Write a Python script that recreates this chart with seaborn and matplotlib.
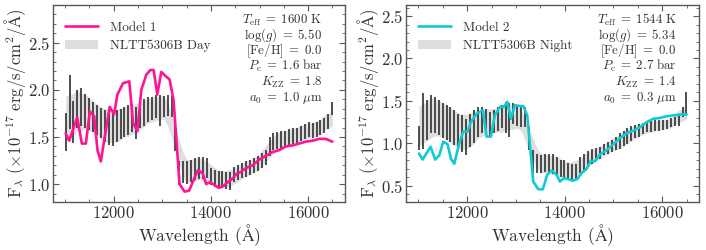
import numpy as np
import pandas as pd
import matplotlib
matplotlib.use("Agg")
import matplotlib.pyplot as plt
from matplotlib.patches import Patch
from matplotlib.lines import Line2D
from matplotlib.ticker import MultipleLocator
import seaborn as sns

# ---------------- data ----------------
wave = [11010, 11091, 11171, 11252, 11333, 11413, 11494, 11575, 11655, 11736,
        11817, 11898, 11978, 12059, 12140, 12220, 12301, 12382, 12462, 12543,
        12624, 12704, 12785, 12866, 12946, 13027, 13108, 13189, 13269, 13350,
        13431, 13511, 13592, 13673, 13753, 13834, 13915, 13995, 14076, 14157,
        14237, 14318, 14399, 14479, 14560, 14641, 14722, 14802, 14883, 14964,
        15044, 15125, 15206, 15286, 15367, 15448, 15528, 15609, 15690, 15770,
        15851, 15932, 16013, 16093, 16174, 16255, 16335, 16416, 16497]

day_flux = [1.55, 1.87, 1.66, 1.80, 1.82, 1.78, 1.74, 1.71, 1.68, 1.65,
            1.62, 1.60, 1.59, 1.62, 1.64, 1.66, 1.68, 1.70, 1.65, 1.73,
            1.76, 1.79, 1.80, 1.82, 1.78, 1.82, 1.83, 1.82, 1.50, 1.12,
            1.13, 1.12, 1.14, 1.16, 1.17, 1.17, 1.17, 1.08, 1.06, 1.05,
            1.05, 1.04, 1.035, 1.10, 1.12, 1.14, 1.16, 1.18, 1.20, 1.22,
            1.25, 1.28, 1.40, 1.45, 1.46, 1.47, 1.48, 1.50, 1.51, 1.52,
            1.54, 1.56, 1.58, 1.57, 1.58, 1.60, 1.62, 1.66, 1.80]
day_err = [0.20, 0.29, 0.22, 0.20, 0.20, 0.18, 0.17, 0.16, 0.16, 0.16,
           0.17, 0.18, 0.19, 0.17, 0.16, 0.16, 0.16, 0.15, 0.17, 0.14,
           0.14, 0.13, 0.12, 0.12, 0.16, 0.11, 0.11, 0.11, 0.15, 0.13,
           0.12, 0.12, 0.12, 0.12, 0.12, 0.12, 0.11, 0.09, 0.09, 0.09,
           0.09, 0.09, 0.095, 0.08, 0.08, 0.08, 0.08, 0.08, 0.08, 0.08,
           0.08, 0.08, 0.10, 0.09, 0.09, 0.09, 0.08, 0.08, 0.08, 0.08,
           0.08, 0.08, 0.08, 0.08, 0.08, 0.08, 0.08, 0.08, 0.07]

night_flux = [1.065, 1.265, 1.275, 1.345, 1.335, 1.305, 1.265, 1.245, 1.225, 1.185,
              1.145, 1.115, 1.075, 1.155, 1.195, 1.255, 1.275, 1.275, 1.225, 1.255,
              1.29, 1.315, 1.305, 1.275, 1.35, 1.33, 1.31, 1.31, 1.055, 0.785,
              0.765, 0.755, 0.77, 0.77, 0.755, 0.73, 0.71, 0.695, 0.67, 0.665,
              0.67, 0.745, 0.785, 0.82, 0.845, 0.875, 0.89, 0.925, 0.95, 0.97,
              1.00, 1.03, 1.06, 1.085, 1.115, 1.14, 1.155, 1.175, 1.195, 1.20,
              1.215, 1.21, 1.22, 1.225, 1.245, 1.255, 1.265, 1.37, 1.465]
night_err = [0.145, 0.325, 0.235, 0.225, 0.215, 0.205, 0.205, 0.205, 0.205, 0.205,
             0.205, 0.215, 0.215, 0.195, 0.195, 0.175, 0.155, 0.135, 0.145, 0.135,
             0.14, 0.135, 0.185, 0.195, 0.12, 0.12, 0.12, 0.12, 0.135, 0.135,
             0.115, 0.105, 0.11, 0.11, 0.115, 0.11, 0.10, 0.105, 0.10, 0.095,
             0.09, 0.095, 0.095, 0.09, 0.085, 0.075, 0.07, 0.065, 0.07, 0.07,
             0.08, 0.09, 0.09, 0.095, 0.085, 0.08, 0.075, 0.065, 0.065, 0.06,
             0.065, 0.06, 0.06, 0.055, 0.055, 0.055, 0.055, 0.06, 0.135]

model_wave = [11009, 11084, 11248, 11343, 11426, 11508, 11597, 11665, 11734, 11836,
              11918, 12007, 12075, 12191, 12320, 12397, 12485, 12567, 12670, 12752,
              12821, 12896, 12978, 13080, 13149, 13231, 13354, 13457, 13550, 13640,
              13735, 13833, 13901, 13983, 14072, 14161, 14257, 14346, 14448, 14530,
              14619, 14722, 14858, 14995, 15132, 15269, 15405, 15542, 15679, 15816,
              15952, 16089, 16226, 16362, 16499]
model1_flux = [1.54, 1.46, 1.71, 1.43, 1.43, 1.77, 1.72, 1.36, 1.24, 1.57,
               1.82, 1.74, 1.95, 2.07, 2.09, 1.65, 1.56, 2.00, 2.16, 2.21,
               2.21, 1.95, 2.19, 2.14, 2.11, 1.89, 1.00, 0.92, 0.93, 1.04,
               1.15, 1.11, 1.00, 1.02, 0.99, 0.96, 0.98, 1.02, 1.06, 1.11,
               1.13, 1.17, 1.20, 1.26, 1.30, 1.34, 1.36, 1.40, 1.41, 1.43,
               1.45, 1.46, 1.48, 1.48, 1.45]
model2_flux = [0.88, 0.81, 0.96, 0.81, 0.86, 1.02, 0.99, 0.82, 0.76, 1.00,
               1.14, 1.14, 1.25, 1.35, 1.39, 1.08, 1.08, 1.33, 1.43, 1.43,
               1.49, 1.29, 1.45, 1.44, 1.44, 1.33, 0.55, 0.46, 0.46, 0.63,
               0.68, 0.63, 0.55, 0.59, 0.58, 0.56, 0.58, 0.65, 0.70, 0.79,
               0.79, 0.87, 0.92, 0.99, 1.06, 1.12, 1.15, 1.19, 1.25, 1.29,
               1.30, 1.32, 1.33, 1.34, 1.34]

panels = [
    dict(flux=day_flux, err=day_err, model=model1_flux, color="#FF1493",
         model_label="Model 1", obs_label="NLTT5306B Day", ylim=(0.81, 2.9),
         params=[r"$T_{\rm eff}\;=\;1600\ {\rm K}$", r"$\log(g)\;=\;5.50$",
                 r"$[{\rm Fe/H}]\;=\;0.0$", r"$P_{\rm c}\;=\;1.6\ {\rm bar}$",
                 r"$K_{\rm ZZ}\;=\;1.8$", r"$a_0\;=\;1.0\ \mu{\rm m}$"]),
    dict(flux=night_flux, err=night_err, model=model2_flux, color="#10CAD3",
         model_label="Model 2", obs_label="NLTT5306B Night", ylim=(0.31, 2.63),
         params=[r"$T_{\rm eff}\;=\;1544\ {\rm K}$", r"$\log(g)\;=\;5.34$",
                 r"$[{\rm Fe/H}]\;=\;0.0$", r"$P_{\rm c}\;=\;2.7\ {\rm bar}$",
                 r"$K_{\rm ZZ}\;=\;1.4$", r"$a_0\;=\;0.3\ \mu{\rm m}$"]),
]

# ---------------- style ----------------
sns.set_theme(style="ticks")
plt.rcParams.update({
    "font.family": ["cmr10", "DejaVu Serif"],
    "mathtext.fontset": "cm",
    "axes.formatter.use_mathtext": True,
    "axes.unicode_minus": False,
    "axes.edgecolor": "#5a5a5a",
    "axes.linewidth": 1.0,
    "xtick.color": "#5a5a5a",
    "ytick.color": "#5a5a5a",
    "xtick.labelcolor": "#333333",
    "ytick.labelcolor": "#333333",
    "text.color": "#333333",
    "axes.labelcolor": "#333333",
})

fig = plt.figure(figsize=(7.06, 2.5), dpi=100)
positions = [[0.0751, 0.192, 0.4136, 0.788], [0.5755, 0.192, 0.4150, 0.788]]
baselines = [0.906, 0.827, 0.748, 0.669, 0.590, 0.511]

for pos, p in zip(positions, panels):
    ax = fig.add_axes(pos)
    df = pd.DataFrame({"wave": wave, "flux": p["flux"], "err": p["err"]})
    df["lo"] = df["flux"] - df["err"]
    df["hi"] = df["flux"] + df["err"]
    band_lo = df["lo"].rolling(5, center=True, min_periods=1).mean()
    band_hi = df["hi"].rolling(5, center=True, min_periods=1).mean()
    ax.fill_between(df["wave"], band_lo, band_hi, color="#dedede", lw=0, zorder=1)
    ax.errorbar(df["wave"], df["flux"], yerr=df["err"], fmt="none",
                ecolor="#383838", elinewidth=1.25, capsize=0, zorder=2)
    mdf = pd.DataFrame({"wave": model_wave, "flux": p["model"]})
    sns.lineplot(data=mdf, x="wave", y="flux", ax=ax, color=p["color"],
                 lw=1.9, zorder=3, legend=False)

    ax.set_xlim(10750, 16760)
    ax.set_ylim(*p["ylim"])
    ax.xaxis.set_major_locator(MultipleLocator(2000))
    ax.xaxis.set_minor_locator(MultipleLocator(500))
    ax.yaxis.set_major_locator(MultipleLocator(0.5))
    ax.yaxis.set_minor_locator(MultipleLocator(0.1))
    ax.tick_params(which="both", direction="in", top=True, right=True,
                   labelsize=12, pad=2)
    ax.tick_params(which="major", length=4, width=0.8)
    ax.tick_params(which="minor", length=2, width=0.6)
    ax.set_xlabel(r"Wavelength ($\mathrm{\AA}$)", fontsize=12.5, labelpad=1)
    ax.set_ylabel(r"${\rm F}_\lambda\ (\times10^{-17}\ {\rm erg/s/cm^2/\AA})$",
                  fontsize=12, labelpad=0)

    handles = [Line2D([], [], color=p["color"], lw=1.9),
               Patch(facecolor="#dedede", edgecolor="none")]
    ax.legend(handles, [p["model_label"], p["obs_label"]], loc="upper left",
              frameon=False, fontsize=9.5, handlelength=2.5, handletextpad=0.9,
              bbox_to_anchor=(0.0, 0.975), borderaxespad=0.5, labelspacing=0.45)
    for line, yb in zip(p["params"], baselines):
        ax.text(0.922, yb, line, transform=ax.transAxes,
                ha="right", va="baseline", fontsize=9.3)

fig.savefig("out.png", dpi=100)
